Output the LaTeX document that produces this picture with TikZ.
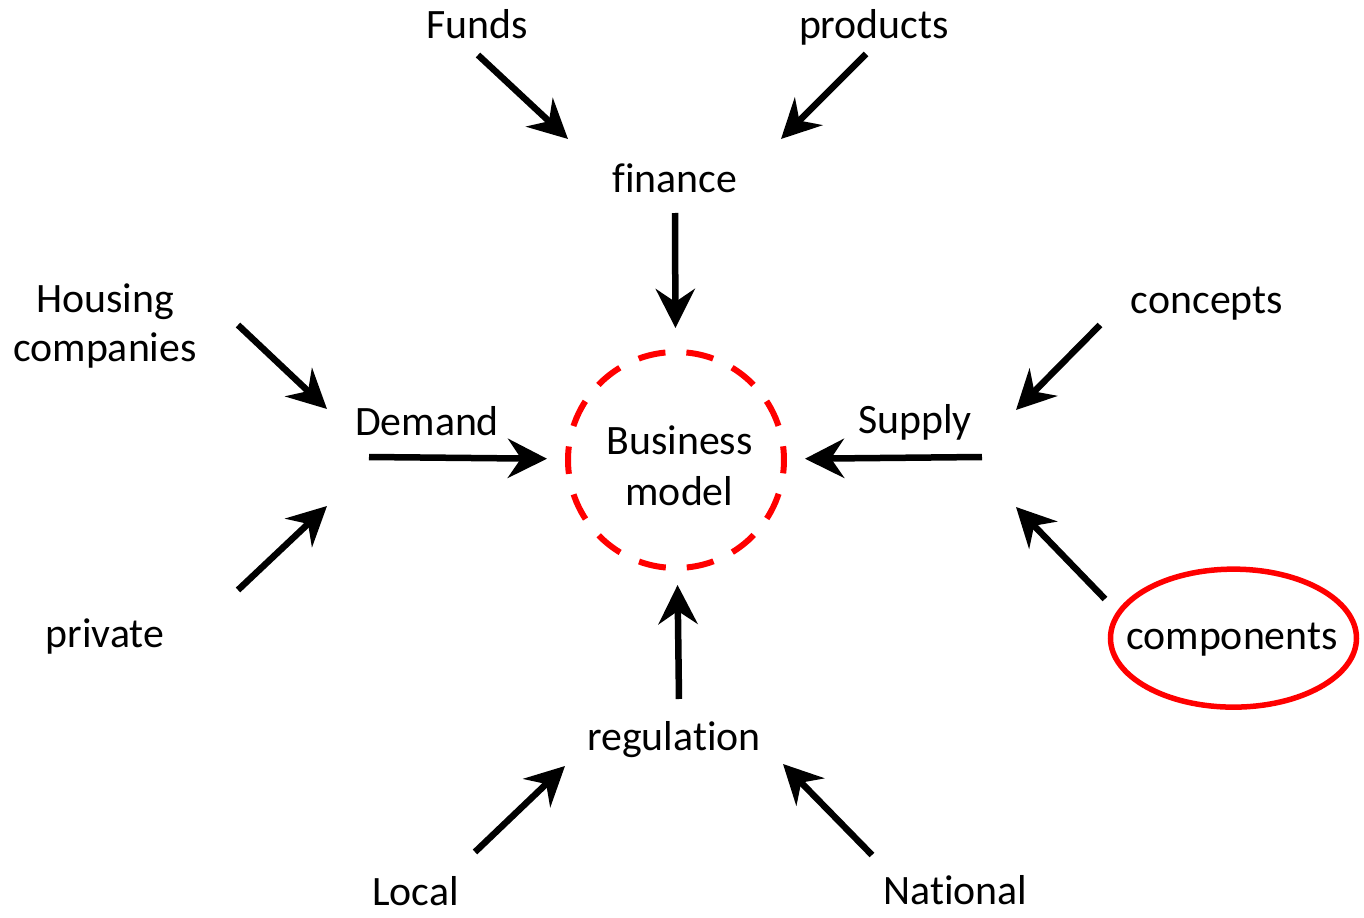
\documentclass[tikz,border=0pt]{standalone}
\usepackage{fontspec}
\setmainfont{Carlito}[Ligatures=NoCommon]
\usetikzlibrary{arrows.meta}
\tikzstyle{word} = [inner sep=0pt, font=\fontsize{11.9pt}{14pt}\selectfont]
\tikzstyle{hub} = [circle, minimum size=2.16cm, inner sep=0pt, outer sep=0pt, draw=red, line width=0.6mm, dash pattern=on 2.75mm off 2.1mm, dash phase=1.375mm]
\tikzstyle{ring} = [draw=red, line width=0.55mm]
\tikzstyle{arrow} = [line width=0.65mm, -{Stealth[length=3.9mm, width=3.9mm, inset=1.3mm]}]

\begin{document}
\begin{tikzpicture}
\useasboundingbox (0,0) rectangle (13.64,-9.18);
\node (bm) [hub] at (6.76,-4.60) {};
\node (bmtext) [word, align=center, font=\fontsize{11.9pt}{14.6pt}\selectfont] at (6.795,-4.66) {Business\\model};
\node (funds) [word, anchor=base] at (4.77,-0.39) {Funds};
\node (products) [word, anchor=base] at (8.74,-0.39) {products};
\node (finance) [word, anchor=base] at (6.75,-1.92) {finance};
\node (housing) [word, align=center, font=\fontsize{11.9pt}{13.8pt}\selectfont] at (1.05,-3.26) {Housing\\companies};
\node (private) [word, anchor=base] at (1.05,-6.47) {private};
\node (demand) [word, anchor=base] at (4.27,-4.35) {Demand};
\node (supply) [word, anchor=base] at (9.15,-4.34) {Supply};
\node (concepts) [word, anchor=base] at (12.07,-3.13) {concepts};
\node (components) [word, anchor=base] at (12.32,-6.49) {components};
\draw [ring] (components) ++(0.015,0.01) ellipse [x radius=1.23, y radius=0.69];
\node (regulation) [word, anchor=base] at (6.74,-7.50) {regulation};
\node (local) [word, anchor=base] at (4.155,-9.05) {Local};
\node (national) [word, anchor=base] at (9.555,-9.04) {National};
% arrow ends
\coordinate (fundsA) at (4.78,-0.55);
\coordinate (fundsB) at (5.68,-1.39);
\coordinate (productsA) at (8.66,-0.54);
\coordinate (productsB) at (7.81,-1.39);
\coordinate (financeA) at (6.75,-2.13);
\coordinate (housingA) at (2.38,-3.25);
\coordinate (housingB) at (3.27,-4.09);
\coordinate (privateA) at (2.38,-5.90);
\coordinate (privateB) at (3.27,-5.06);
\coordinate (demandA) at (3.69,-4.57);
\coordinate (supplyA) at (9.82,-4.57);
\coordinate (conceptsA) at (11.00,-3.25);
\coordinate (conceptsB) at (10.16,-4.10);
\coordinate (componentsA) at (11.05,-5.99);
\coordinate (componentsB) at (10.16,-5.07);
\coordinate (regulationA) at (6.79,-6.99);
\coordinate (localA) at (4.75,-8.52);
\coordinate (localB) at (5.65,-7.66);
\coordinate (nationalA) at (8.72,-8.55);
\coordinate (nationalB) at (7.83,-7.64);
\draw [arrow] (fundsA) -- (fundsB);
\draw [arrow] (productsA) -- (productsB);
\draw [arrow, shorten >=2.4mm] (financeA) -- (bm);
\draw [arrow] (housingA) -- (housingB);
\draw [arrow] (privateA) -- (privateB);
\draw [arrow, shorten >=2.1mm] (demandA) -- (bm);
\draw [arrow, shorten >=2.1mm] (supplyA) -- (bm);
\draw [arrow] (conceptsA) -- (conceptsB);
\draw [arrow] (componentsA) -- (componentsB);
\draw [arrow, shorten >=1.7mm] (regulationA) -- (bm);
\draw [arrow] (localA) -- (localB);
\draw [arrow] (nationalA) -- (nationalB);
\end{tikzpicture}
\end{document}
